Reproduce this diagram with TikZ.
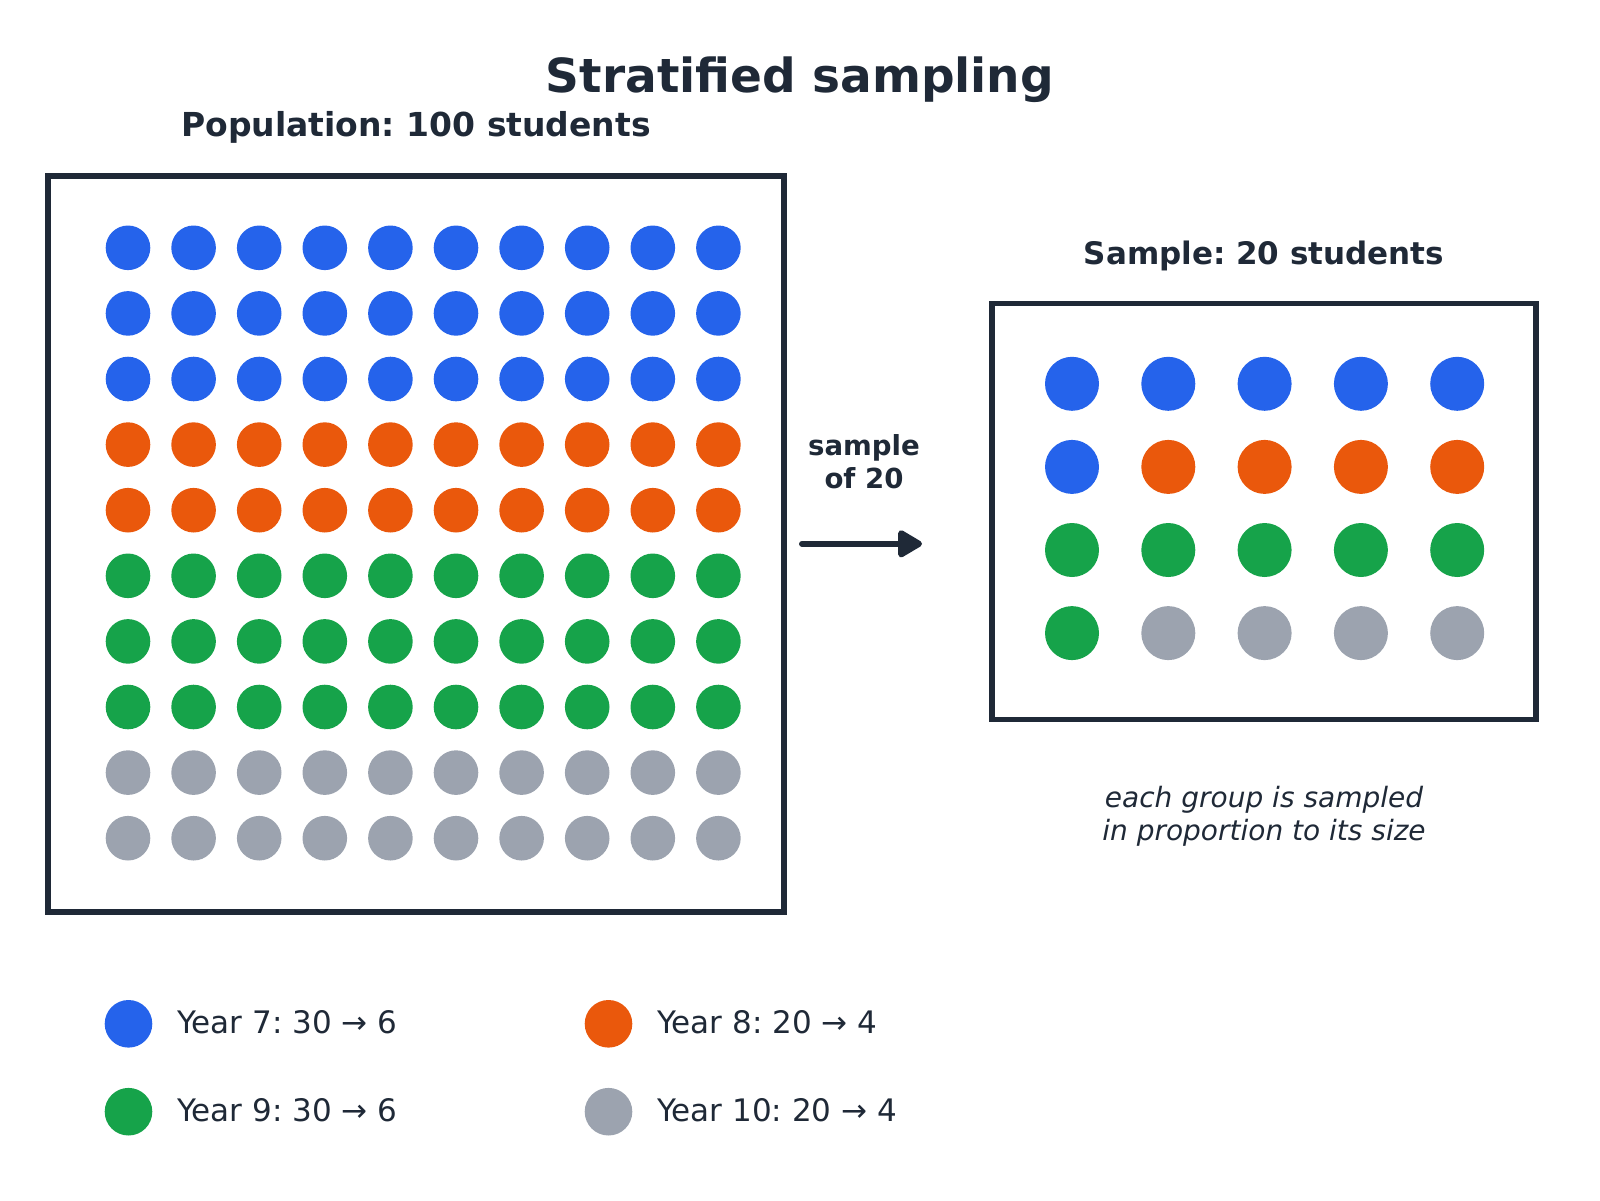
\documentclass[tikz,border=0pt]{standalone}
\usepackage{fontspec}
\setmainfont{DejaVu Sans}
\usetikzlibrary{arrows.meta}
\frenchspacing

\definecolor{ink}{HTML}{1F2937}
\definecolor{yearseven}{HTML}{2563EB}
\definecolor{yeareight}{HTML}{EA580C}
\definecolor{yearnine}{HTML}{16A34A}
\definecolor{yearten}{HTML}{9CA3AF}

\tikzset{
  dot/.style={circle, inner sep=0pt, minimum size=22.3pt},
  bigdot/.style={circle, inner sep=0pt, minimum size=27pt},
  keydot/.style={circle, inner sep=0pt, minimum size=23.8pt},
  frame/.style={draw=ink, line width=2.6pt, inner sep=0pt},
  heading/.style={text=ink, anchor=base, font=\fontsize{16.5}{20}\selectfont\bfseries},
  keytext/.style={text=ink, anchor=west, font=\fontsize{15.5}{19}\selectfont},
}

\begin{document}
\begin{tikzpicture}[x=0.5pt, y=-0.5pt]
    \useasboundingbox (0,0) rectangle (1600,1200);

    % titles
    \node[text=ink, anchor=base, font=\fontsize{23.5}{28}\selectfont\bfseries] (title) at (800,92.7) {Stratified sampling};
    \node[heading] (poptitle) at (416,136.7) {Population: 100 students};
    \node[heading, font=\fontsize{15.5}{19}\selectfont\bfseries] (sampletitle) at (1264,264) {Sample: 20 students};

    % population
    \node[frame, minimum width=368pt, minimum height=368pt] (popbox) at (416,544) {};
    \foreach \r/\c in {1/yearseven,2/yearseven,3/yearseven,4/yeareight,5/yeareight,
                       6/yearnine,7/yearnine,8/yearnine,9/yearten,10/yearten}
        \foreach \k in {1,...,10}
            \node[dot, fill=\c] (pop-\r-\k) at ({128+65.6*(\k-1)}, {247.8+65.6*(\r-1)}) {};

    % sample
    \node[frame, minimum width=272pt, minimum height=208pt] (samplebox) at (1264,511.3) {};
    \foreach \r/\cols in {1/{yearseven,yearseven,yearseven,yearseven,yearseven},
                          2/{yearseven,yeareight,yeareight,yeareight,yeareight},
                          3/{yearnine,yearnine,yearnine,yearnine,yearnine},
                          4/{yearnine,yearten,yearten,yearten,yearten}}
        \foreach \c [count=\k] in \cols
            \node[bigdot, fill=\c] (smp-\r-\k) at ({1072+96.3*(\k-1)}, {383.8+83.1*(\r-1)}) {};

    % arrow
    \coordinate (arrowtail) at (802,543.8);
    \coordinate (arrowtip) at (922,543.8);
    \draw[ink, line width=3pt, line cap=round, -{Triangle[length=13.5pt, width=15pt, round]}] (arrowtail) -- (arrowtip);
    \node[text=ink, align=center, font=\fontsize{13.8}{16.5}\selectfont\bfseries] (arrowlbl) at (864,462) {sample\\of 20};

    \node[text=ink, align=center, font=\fontsize{14}{16.5}\selectfont\itshape] (note) at (1264,816) {each group is sampled\\in proportion to its size};

    % legend
    \node[keydot, fill=yearseven] (key7) at (128.5,1023.8) {};
    \node[keytext] (key7txt) at (170,1022) {Year 7: 30 → 6};
    \node[keydot, fill=yeareight] (key8) at (608.5,1023.8) {};
    \node[keytext] (key8txt) at (650,1022) {Year 8: 20 → 4};
    \node[keydot, fill=yearnine] (key9) at (128.5,1111.7) {};
    \node[keytext] (key9txt) at (170,1110) {Year 9: 30 → 6};
    \node[keydot, fill=yearten] (key10) at (608.5,1111.7) {};
    \node[keytext] (key10txt) at (650,1110) {Year 10: 20 → 4};
\end{tikzpicture}
\end{document}
